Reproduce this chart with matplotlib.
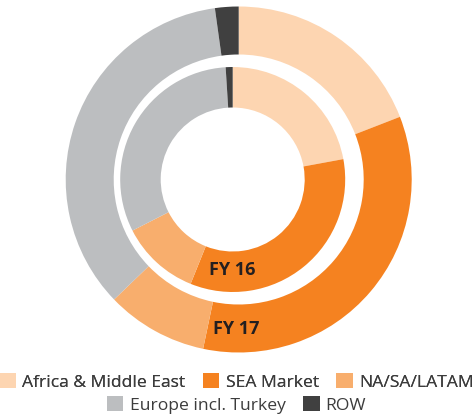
import matplotlib
matplotlib.use('Agg')
import matplotlib.pyplot as plt
from matplotlib.patches import Patch

regions = ['Africa & Middle East', 'SEA Market', 'NA/SA/LATAM',
           'Europe incl. Turkey', 'ROW']
colors = ['#FDD5B1', '#F58220', '#F8AE6D', '#BCBEC0', '#404040']
fy16 = [22.1, 34.0, 11.4, 31.5, 1.0]
fy17 = [19.1, 34.2, 9.5, 35.0, 2.2]
ring_labels = ['FY 16', 'FY 17']

plt.rcParams['font.family'] = ['Open Sans', 'DejaVu Sans']

W, H = 473, 418
fig = plt.figure(figsize=(W / 100, H / 100), dpi=100)
ax = fig.add_axes([0, 0, 1, 1])

# outer ring FY 17
ax.pie(fy17, colors=colors, startangle=90, counterclock=False,
       center=(238.7, H - 179.5), radius=173, frame=True,
       wedgeprops=dict(width=173 - 125, linewidth=0))
# inner ring FY 16 (slightly offset, as in the original)
ax.pie(fy16, colors=colors, startangle=90, counterclock=False,
       center=(232.7, H - 179.5), radius=112.5, frame=True,
       wedgeprops=dict(width=112.5 - 72, linewidth=0))
ax.set_xlim(0, W)
ax.set_ylim(0, H)
ax.set_aspect('equal')
ax.axis('off')

ax.text(232, H - 270, ring_labels[0], ha='center', va='center',
        fontsize=13, fontweight='bold', color='#231F20')
ax.text(236, H - 329, ring_labels[1], ha='center', va='center',
        fontsize=13, fontweight='bold', color='#231F20')

handles = [Patch(facecolor=c, edgecolor='none') for c in colors]
common = dict(loc='center', frameon=False, fontsize=12.6, handlelength=0.95,
              handleheight=0.95, handletextpad=0.35, columnspacing=1.0,
              labelcolor='#3C3C3C', borderpad=0, borderaxespad=0)
leg1 = fig.legend(handles[:3], regions[:3], ncol=3,
                  bbox_to_anchor=(0.5, 1 - 382 / H), **common)
leg2 = fig.legend(handles[3:], regions[3:], ncol=2,
                  bbox_to_anchor=(0.5, 1 - 405 / H), **common)
fig.add_artist(leg1)

fig.savefig('out.png', dpi=100)
